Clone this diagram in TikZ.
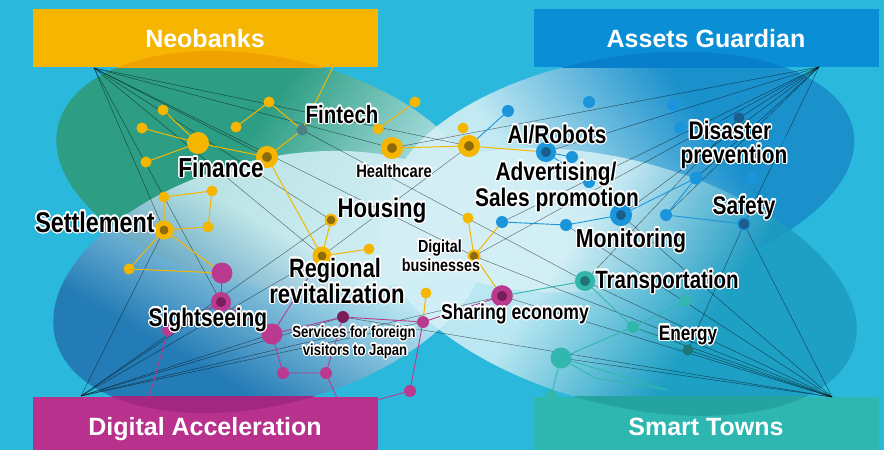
\documentclass[tikz,border=0pt]{standalone}
\usepackage{fontspec}
\setmainfont{Liberation Sans}
\newfontfamily\condfont[FakeStretch=0.82]{Liberation Sans}
\usepackage{contour}
\contourlength{1.2pt}
\contournumber{24}
\newcommand{\lblfont}[1]{\condfont\bfseries\fontsize{#1}{#1}\selectfont}
\newcommand{\boxfont}{\bfseries\fontsize{25}{25}\selectfont}

\definecolor{bgC}{HTML}{2AB8DC}
\definecolor{neoC}{HTML}{F6B500}
\definecolor{neoD}{HTML}{F0A200}
\definecolor{assC}{HTML}{0A8FD7}
\definecolor{assD}{HTML}{087FCB}
\definecolor{digC}{HTML}{B8318D}
\definecolor{digD}{HTML}{A2277F}
\definecolor{smtC}{HTML}{2EB6B0}
\definecolor{smtD}{HTML}{24A4A1}
\definecolor{lightC}{HTML}{D4F0F6}
\definecolor{tlD}{HTML}{2E9C7A}
\definecolor{trD}{HTML}{1A8DCB}
\definecolor{blD}{HTML}{2372B0}
\definecolor{brD}{HTML}{1C9BC0}
\definecolor{yC}{HTML}{F6B600}
\definecolor{yD}{HTML}{8E6B0A}
\definecolor{bC}{HTML}{1A94DB}
\definecolor{bD}{HTML}{1B5E8C}
\definecolor{mC}{HTML}{BA3A90}
\definecolor{mD}{HTML}{7A1E5B}
\definecolor{tC}{HTML}{32B7AE}
\definecolor{tD}{HTML}{1F7572}
\definecolor{ftC}{HTML}{4E7E85}

\pgfdeclarehorizontalshading{tlS}{100bp}{color(0bp)=(tlD); color(47bp)=(tlD); color(63bp)=(lightC); color(100bp)=(lightC)}
\pgfdeclarehorizontalshading{trS}{100bp}{color(0bp)=(lightC); color(43bp)=(lightC); color(58bp)=(trD); color(100bp)=(trD)}
\pgfdeclarehorizontalshading{blS}{100bp}{color(0bp)=(blD); color(41bp)=(blD); color(54bp)=(lightC); color(100bp)=(lightC)}
\pgfdeclarehorizontalshading{brS}{100bp}{color(0bp)=(lightC); color(45bp)=(lightC); color(58bp)=(brD); color(100bp)=(brD)}

\pgfdeclarelayer{back}
\pgfdeclarelayer{lines}
\pgfdeclarelayer{front}
\pgfsetlayers{back,lines,main,front}

\begin{document}
\begin{tikzpicture}[x=1pt,y=-1pt,
  dot/.style={circle, inner sep=0pt, draw=none},
  ys/.style={dot, fill=yC, minimum size=11pt},
  yl/.style={dot, fill=yC, minimum size=22pt},
  yh/.style={dot, fill=yD, draw=yC, line width=6pt, minimum size=16pt},
  ym/.style={dot, fill=yD, draw=yC, line width=2pt, minimum size=11pt},
  bs/.style={dot, fill=bC, minimum size=12pt},
  bh/.style={dot, fill=bD, draw=bC, line width=5pt, minimum size=15pt},
  bdk/.style={dot, fill=bD, minimum size=11pt},
  ms/.style={dot, fill=mC, minimum size=12pt},
  ml/.style={dot, fill=mC, minimum size=21pt},
  mh/.style={dot, fill=mD, draw=mC, line width=5pt, minimum size=15pt},
  mdk/.style={dot, fill=mD, minimum size=12pt},
  ts/.style={dot, fill=tC, minimum size=12pt},
  tl/.style={dot, fill=tC, minimum size=21pt},
  th/.style={dot, fill=tD, draw=tC, line width=5pt, minimum size=15pt},
  tdk/.style={dot, fill=tD, minimum size=11pt},
  net/.style={draw=black, line width=0.45pt, opacity=0.55},
  ye/.style={draw=yC, line width=1pt},
  be/.style={draw=bC, line width=0.9pt},
  me/.style={draw=mC, line width=0.9pt},
  te/.style={draw=tC, line width=0.9pt},
  panel/.style={rectangle, inner sep=0pt, minimum width=345pt, minimum height=58pt},
  paneltext/.style={font=\boxfont, text=white, anchor=base, inner sep=0pt},
  lab/.style={text=black, anchor=base, inner sep=0pt}
]
\useasboundingbox (0,0) rectangle (884,450);

\begin{pgfonlayer}{back}
\fill[bgC] (0,0) rectangle (884,450);
% top-left lobe
\begin{scope}
\clip[rotate around={-12:(268,172)}] (268,172) ellipse [x radius=215, y radius=115];
\shade[shading=tlS, opacity=0.9, transform canvas={rotate around={-35:(268,172)}}] (-32,-128) rectangle (568,472);
\end{scope}
% top-right lobe
\begin{scope}
\clip[rotate around={10:(622,172)}] (622,172) ellipse [x radius=235, y radius=115];
\shade[shading=trS, opacity=0.9, transform canvas={rotate around={35:(622,172)}}] (322,-128) rectangle (922,472);
\end{scope}
% bottom-left lobe
\begin{scope}
\clip[rotate around={15:(270,282)}] (270,282) ellipse [x radius=222, y radius=122];
\shade[shading=blS, opacity=0.85, transform canvas={rotate around={60:(270,282)}}] (-30,-18) rectangle (570,582);
\end{scope}
% bottom-right lobe
\begin{scope}
\clip[rotate around={-15:(618,282)}] (618,282) ellipse [x radius=245, y radius=122];
\shade[shading=brS, opacity=0.85, transform canvas={rotate around={-35:(618,282)}}] (318,-18) rectangle (918,582);
\end{scope}

% panels
\node[panel, fill=neoC] (neo) at (205,38) {};
\node[panel, fill=assC] (ass) at (706.5,38) {};
\node[panel, fill=digC, minimum height=54pt] (dig) at (205,424) {};
\node[panel, fill=smtC, minimum height=54pt] (smt) at (706.5,424) {};
\begin{scope}
\clip (neo.south west) rectangle (neo.north east);
\fill[neoD, rotate around={-12:(268,172)}] (268,172) ellipse [x radius=215, y radius=115];
\end{scope}
\begin{scope}
\clip (ass.south west) rectangle (ass.north east);
\fill[assD, rotate around={10:(622,172)}] (622,172) ellipse [x radius=235, y radius=115];
\end{scope}
\begin{scope}
\clip (dig.south west) rectangle (dig.north east);
\fill[digD, rotate around={15:(270,282)}] (270,282) ellipse [x radius=222, y radius=122];
\end{scope}
\begin{scope}
\clip (smt.south west) rectangle (smt.north east);
\fill[smtD, rotate around={-15:(618,282)}] (618,282) ellipse [x radius=245, y radius=122];
\end{scope}
\end{pgfonlayer}

\node[paneltext] (neoT) at (205,47) {Neobanks};
\node[paneltext] (assT) at (706,47) {Assets Guardian};
\node[paneltext] (digT) at (205,435) {Digital Acceleration};
\node[paneltext] (smtT) at (706,435) {Smart Towns};

% hubs and free ends
\coordinate (hTL) at (94,68);
\coordinate (hTR) at (819,67);
\coordinate (hBL) at (81,396);
\coordinate (hBR) at (832,397);
\coordinate (nA) at (333,67);
\coordinate (dA) at (149,398);
\coordinate (dB) at (377,400);
\coordinate (dC) at (337,398);
\coordinate (tm) at (595,378);
\coordinate (tA) at (668,390);

% yellow
\node[ys] (y1) at (163,110) {};
\node[ys] (y2) at (142,128) {};
\node[yl] (y3) at (198,143) {};
\node[ys] (y4) at (146,162) {};
\node[ys] (y5) at (269,102) {};
\node[ys] (y6) at (236,127) {};
\node[yh] (fin) at (267,157) {};
\node[dot, fill=ftC, minimum size=11pt] (ft) at (302,130) {};
\node[ys] (y7) at (378,129) {};
\node[ys] (y8) at (415,102) {};
\node[yh] (hc) at (392,148) {};
\node[ys] (y9) at (463,128) {};
\node[yh] (ring) at (469,146) {};
\node[ys] (y10) at (164,197) {};
\node[ys] (y11) at (212,191) {};
\node[ys] (y12) at (208,227) {};
\node[yh, minimum size=14pt, line width=5pt] (set) at (164,230) {};
\node[ym] (hou) at (331,220) {};
\node[ys] (y13) at (129,269) {};
\node[yh, minimum size=14pt, line width=5pt] (reg) at (322,256) {};
\node[ys] (y14) at (369,249) {};
\node[ys] (y15) at (468,218) {};
\node[ym] (dgb) at (474,256) {};
\node[ys] (y16) at (426,293) {};
% blue
\node[bs] (b1) at (508,111) {};
\node[bs] (b2) at (589,102) {};
\node[bh] (ai) at (546,152) {};
\node[bs] (b3) at (572,157) {};
\node[bs] (b4) at (589,182) {};
\node[bs] (b5) at (673,105) {};
\node[bs] (b6) at (680,128) {};
\node[bdk] (dis) at (739,118) {};
\node[bs, fill opacity=0.6] (b7) at (780,140) {};
\node[bs, minimum size=13pt] (b8) at (696,178) {};
\node[bs] (b9) at (752,178) {};
\node[bs] (b10) at (502,222) {};
\node[bs] (b11) at (566,225) {};
\node[bh, minimum size=16pt, line width=6pt] (mon) at (621,215) {};
\node[bs] (b12) at (666,215) {};
\node[dot, fill=bD, draw=bC, line width=1.5pt, minimum size=12pt] (saf) at (744,224) {};
% magenta
\node[ml] (m1) at (222,273) {};
\node[mh] (sig) at (221,302) {};
\node[ms] (m2) at (168,330) {};
\node[ml] (m3) at (272,334) {};
\node[mdk] (m4) at (343,317) {};
\node[ms] (m5) at (423,322) {};
\node[mh, minimum size=16pt, line width=5.5pt] (sha) at (502,296) {};
\node[ms] (m6) at (283,373) {};
\node[ms] (m7) at (326,373) {};
\node[ms] (m8) at (410,391) {};
% teal
\node[th] (tra) at (585,281) {};
\node[ts] (t1) at (685,301) {};
\node[ts] (t2) at (633,327) {};
\node[tdk] (ene) at (688,350) {};
\node[tl] (t3) at (561,358) {};
\node[ts] (t4) at (551,396) {};

\begin{pgfonlayer}{lines}
% network lines
\foreach \n in {set,sig,reg,hou,fin,hc,ring,dgb}
  \draw[net] (hTL) -- (\n.center);
\foreach \n in {hc,ai,dis,b8,mon,b12,saf,dgb,b10}
  \draw[net] (hTR) -- (\n.center);
\foreach \n in {set,sig,reg,hou,m3,m4,sha,m5}
  \draw[net] (hBL) -- (\n.center);
\foreach \n in {saf,ene,t2,tra,mon,sha,m4,dgb,t3,b11}
  \draw[net] (hBR) -- (\n.center);
\draw[net] (ft.center) -- (tra.center);
\draw[net] (reg.center) -- (ring.center);
\draw[net] (dis.center) -- (tra.center);
\draw[net] (saf.center) -- (ene.center);
% yellow edges
\draw[ye] (nA) -- (ft.center);
\draw[ye] (ft.center) -- (y5.center) -- (y6.center);
\draw[ye] (ft.center) -- (fin.center);
\draw[ye] (y1.center) -- (y3.center);
\draw[ye] (y2.center) -- (y3.center);
\draw[ye] (y4.center) -- (y3.center);
\draw[ye] (y3.center) -- (fin.center);
\draw[ye] (fin.center) -- (reg.center);
\draw[ye] (hou.center) -- (reg.center);
\draw[ye] (reg.center) -- (y14.center);
\draw[ye] (hc.center) -- (ring.center);
\draw[ye] (ring.center) -- (ai.center);
\draw[ye] (y7.center) -- (y8.center);
\draw[ye] (dgb.center) -- (y15.center);
\draw[ye] (dgb.center) -- (b10.center);
\draw[ye] (dgb.center) -- (sha.center);
\draw[ye] (set.center) -- (y10.center) -- (y11.center) -- (y12.center) -- (set.center);
\draw[ye] (set.center) -- (y13.center);
\draw[ye] (set.center) -- (m1.center);
\draw[ye] (y13.center) -- (m1.center);
\draw[ye] (y16.center) -- (m5.center);
% blue edges
\draw[be] (ring.center) -- (b1.center);
\draw[be] (ai.center) -- (b3.center);
\draw[be] (ai.center) -- (b4.center);
\draw[be] (b10.center) -- (b11.center) -- (mon.center) -- (b8.center) -- (b9.center);
\draw[be] (b12.center) -- (b8.center);
\draw[be] (b12.center) -- (saf.center);
\draw[be] (b5.center) -- (b6.center) -- (dis.center);
% magenta edges
\draw[me] (m1.center) -- (sig.center) -- (m3.center);
\draw[me] (m2.center) -- (sig.center);
\draw[me] (m2.center) -- (dA);
\draw[me] (m3.center) -- (reg.center);
\draw[me] (m3.center) -- (m4.center) -- (m5.center) -- (sha.center);
\draw[me] (m3.center) -- (m6.center) -- (m7.center) -- (m4.center);
\draw[me] (m7.center) -- (dC);
\draw[me] (m5.center) -- (m8.center) -- (dB);
% teal edges
\draw[te] (sha.center) -- (tra.center) -- (t2.center) -- (t1.center);
\draw[te] (t2.center) -- (ene.center);
\draw[te] (t3.center) -- (t2.center);
\draw[te] (t3.center) -- (t4.center);
\draw[te] (t3.center) -- (tm) -- (tA);
\draw[te] (t3.center) -- (tA);
\end{pgfonlayer}

\begin{pgfonlayer}{front}
\node[lab, font=\lblfont{25}] (lFt) at (342,123) {\contour{white}{Fintech}};
\node[lab, font=\lblfont{27.5}] (lFin) at (221,177) {\contour{white}{Finance}};
\node[lab, font=\lblfont{28.5}] (lSet) at (95,232) {\contour{white}{Settlement}};
\node[lab, font=\lblfont{27}] (lHou) at (382,217) {\contour{white}{Housing}};
\node[lab, font=\lblfont{18}] (lHc) at (394,177) {\contour{white}{Healthcare}};
\node[lab, font=\lblfont{25.5}] (lAi) at (557,143) {\contour{white}{AI/Robots}};
\node[lab, font=\lblfont{25.5}] (lAd1) at (556,180) {\contour{white}{Advertising/}};
\node[lab, font=\lblfont{25.5}] (lAd2) at (557,206) {\contour{white}{Sales promotion}};
\node[lab, font=\lblfont{25.5}] (lDi1) at (730,139) {\contour{white}{Disaster}};
\node[lab, font=\lblfont{25.5}] (lDi2) at (734,163) {\contour{white}{prevention}};
\node[lab, font=\lblfont{25.5}] (lSaf) at (744,214) {\contour{white}{Safety}};
\node[lab, font=\lblfont{26}] (lMon) at (631,247) {\contour{white}{Monitoring}};
\node[lab, font=\lblfont{25}] (lTra) at (667,288) {\contour{white}{Transportation}};
\node[lab, font=\lblfont{21}] (lEne) at (688,340) {\contour{white}{Energy}};
\node[lab, font=\lblfont{21.5}] (lSha) at (515,319) {\contour{white}{Sharing economy}};
\node[lab, font=\lblfont{25.5}] (lSig) at (208,326) {\contour{white}{Sightseeing}};
\node[lab, font=\lblfont{26.5}] (lReg1) at (335,277) {\contour{white}{Regional}};
\node[lab, font=\lblfont{27}] (lReg2) at (337,303) {\contour{white}{revitalization}};
\node[lab, font=\lblfont{17.5}] (lDg1) at (440,252) {\contour{white}{Digital}};
\node[lab, font=\lblfont{17.5}] (lDg2) at (441,271) {\contour{white}{businesses}};
\node[lab, font=\lblfont{16}] (lSv1) at (354,337) {\contour{white}{Services for foreign}};
\node[lab, font=\lblfont{16}] (lSv2) at (355,355) {\contour{white}{visitors to Japan}};
\end{pgfonlayer}
\end{tikzpicture}
\end{document}
